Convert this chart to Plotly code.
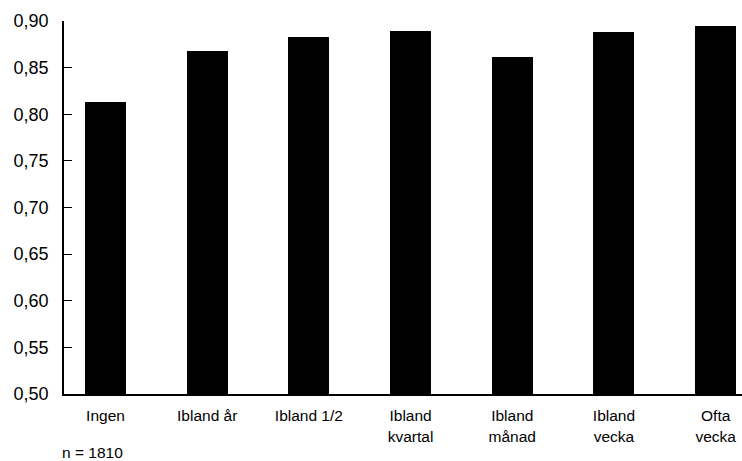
import plotly.graph_objects as go

categories = ["Ingen", "Ibland år", "Ibland 1/2", "Ibland<br>kvartal", "Ibland<br>månad", "Ibland<br>vecka", "Ofta<br>vecka"]
values = [0.813, 0.868, 0.883, 0.889, 0.861, 0.888, 0.895]
y_ticks = [0.50, 0.55, 0.60, 0.65, 0.70, 0.75, 0.80, 0.85, 0.90]
y_tick_labels = ["0,50", "0,55", "0,60", "0,65", "0,70", "0,75", "0,80", "0,85", "0,90"]
note = "n = 1810"

xs = list(range(len(categories)))

fig = go.Figure(go.Bar(x=xs, y=values, width=0.403, marker=dict(color="black", line=dict(width=0))))

fig.update_layout(
    width=742, height=461,
    margin=dict(l=64, r=0, t=21, b=67, autoexpand=False),
    paper_bgcolor="white", plot_bgcolor="white",
    showlegend=False,
    font=dict(family="Liberation Sans, Arial, sans-serif", color="black"),
    bargap=0,
)
fig.update_xaxes(
    range=[-0.408, 6.259], tickvals=xs, ticktext=categories,
    showline=True, linecolor="black", linewidth=1.5,
    ticks="", showgrid=False, zeroline=False, automargin=False,
    tickfont=dict(size=15.5), ticklabelstandoff=7,
)
fig.update_yaxes(
    range=[0.5, 0.9], tickvals=y_ticks, ticktext=y_tick_labels,
    showline=True, linecolor="black", linewidth=1.5,
    ticks="inside", ticklen=8, tickcolor="black", tickwidth=1,
    showgrid=False, zeroline=False, automargin=False,
    tickfont=dict(size=18), ticklabelstandoff=10,
)
fig.add_annotation(text=note, xref="paper", yref="paper", x=-0.006, y=-0.158,
                   xanchor="left", yanchor="middle", showarrow=False, font=dict(size=15.5))

fig.write_html("out.html", config={"displayModeBar": False},
               post_script="document.body.style.margin='0';document.body.style.overflow='hidden';")
